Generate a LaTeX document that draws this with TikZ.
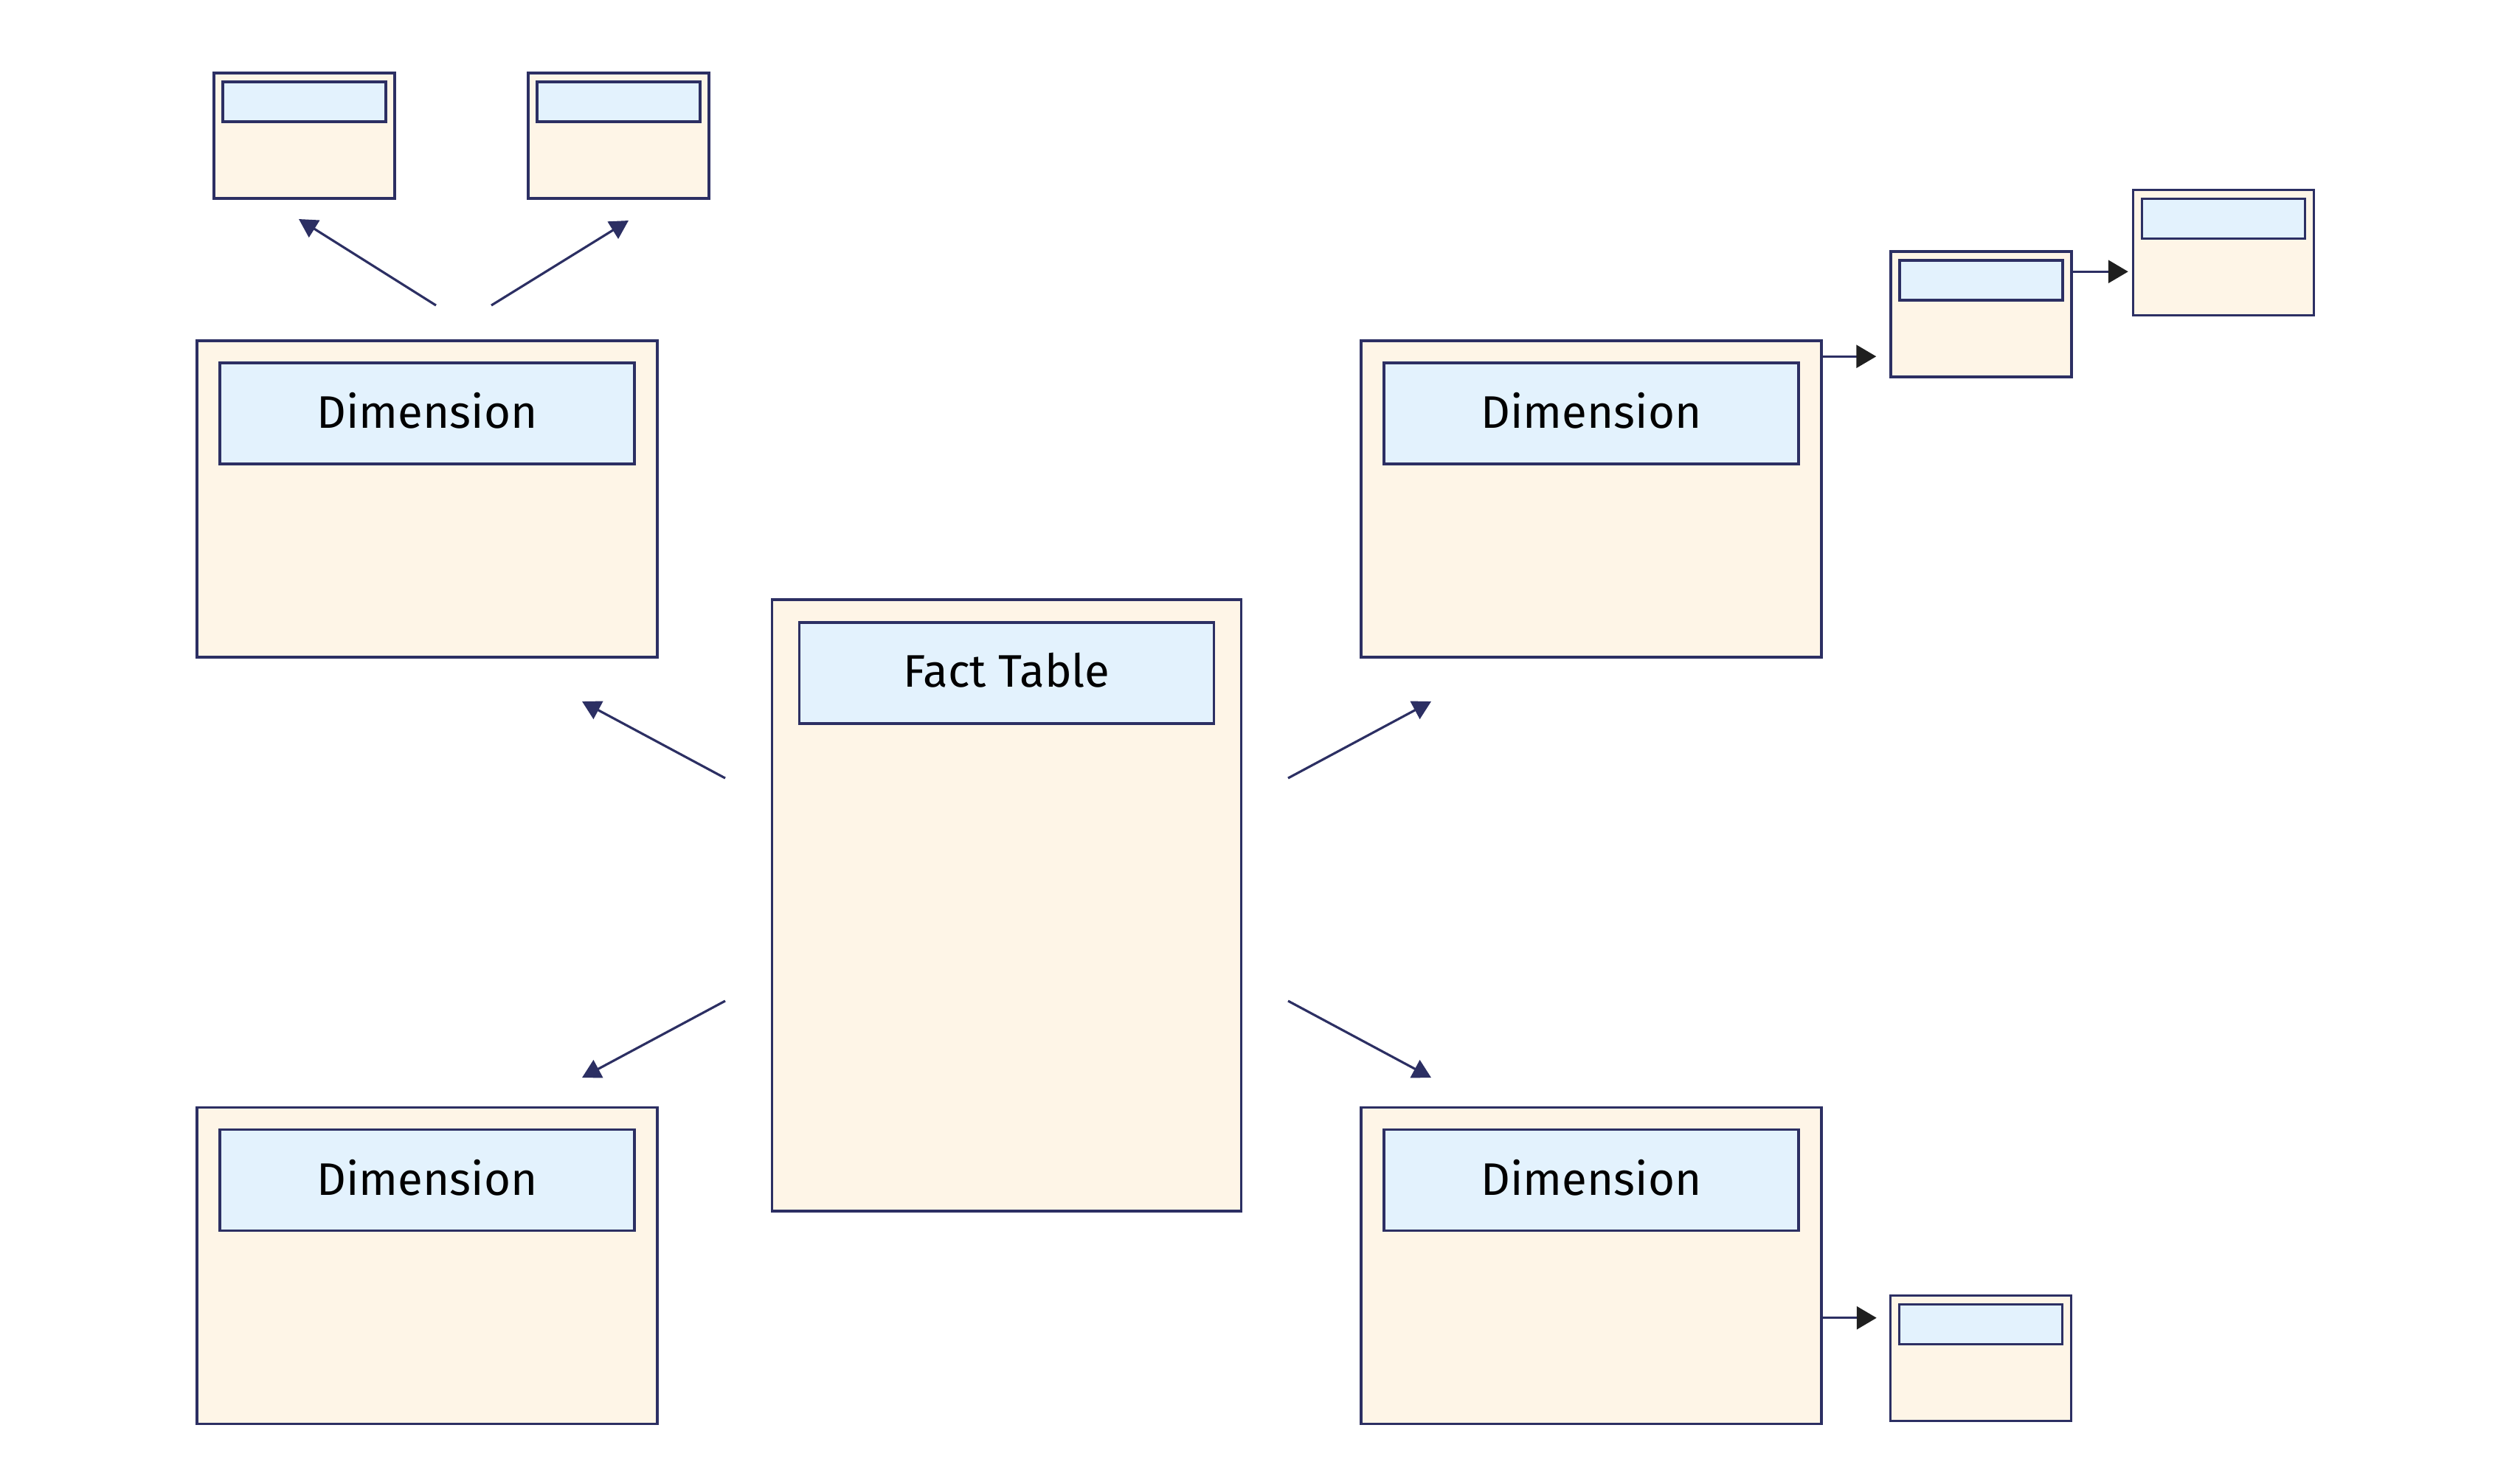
\documentclass[tikz,border=0pt]{standalone}
\usepackage{fontspec}
\setmainfont{Fira Sans}
\usepackage{tikz}
\usetikzlibrary{arrows.meta}
\usetikzlibrary{positioning}
\definecolor{navy}{RGB}{44,47,99}
\definecolor{cream}{RGB}{254,245,231}
\definecolor{paleblue}{RGB}{227,242,253}
\tikzset{tbl/.style = {draw = navy, fill = cream, line width = 1pt, inner sep = 0}}
\tikzset{dim/.style = {tbl, minimum width = 6.24cm, minimum height = 4.29cm}}
\tikzset{fct/.style = {tbl, minimum width = 6.36cm, minimum height = 8.29cm}}
\tikzset{sml/.style = {tbl, minimum width = 2.45cm, minimum height = 1.70cm}}
\tikzset{head/.style = {draw = navy, fill = paleblue, line width = 1pt, inner sep = 0,
                        minimum width = 5.62cm, minimum height = 1.37cm, text depth = 0.08cm,
                        font = \fontsize{17.6}{21}\selectfont}}
\tikzset{shead/.style = {draw = navy, fill = paleblue, line width = 1pt, inner sep = 0,
                         minimum width = 2.21cm, minimum height = 0.54cm}}
\tikzset{link/.style = {draw = navy, line width = 0.9pt,
                        -{Triangle[length = 0.25cm, width = 0.27cm]}}}
\tikzset{hlink/.style = {draw = navy, line width = 0.9pt,
                         -{Triangle[length = 0.27cm, width = 0.31cm, color = black!88]}}}

\begin{document}
\begin{tikzpicture}
      \useasboundingbox (0, 0) rectangle (34.01, -20.11);

      \node [fct] (fact) at (13.645, -12.275) {};
      \node [head, below = 0.31cm of fact.north] (fact-h) {Fact Table};

      \node [dim] (dimtl) at (5.79, -6.765) {};
      \node [head, below = 0.30cm of dimtl.north] (dimtl-h) {Dimension};
      \node [dim] (dimtr) at (21.57, -6.765) {};
      \node [head, below = 0.30cm of dimtr.north] (dimtr-h) {Dimension};
      \node [dim] (dimbl) at (5.79, -17.16) {};
      \node [head, below = 0.30cm of dimbl.north] (dimbl-h) {Dimension};
      \node [dim] (dimbr) at (21.57, -17.16) {};
      \node [head, below = 0.30cm of dimbr.north] (dimbr-h) {Dimension};

      \node [sml] (suba) at (4.125, -1.84) {};
      \node [shead, below = 0.12cm of suba.north] (suba-h) {};
      \node [sml] (subb) at (8.385, -1.84) {};
      \node [shead, below = 0.12cm of subb.north] (subb-h) {};
      \node [sml] (subc) at (26.855, -4.26) {};
      \node [shead, below = 0.12cm of subc.north] (subc-h) {};
      \node [sml] (subd) at (30.14, -3.425) {};
      \node [shead, below = 0.12cm of subd.north] (subd-h) {};
      \node [sml] (sube) at (26.85, -18.415) {};
      \node [shead, below = 0.12cm of sube.north] (sube-h) {};

      \coordinate (f-tl) at (9.83, -10.55);
      \coordinate (f-bl) at (9.83, -13.57);
      \coordinate (f-tr) at (17.46, -10.55);
      \coordinate (f-br) at (17.46, -13.57);
      \coordinate (t-tl) at (7.89, -9.51);
      \coordinate (t-bl) at (7.89, -14.61);
      \coordinate (t-tr) at (19.40, -9.51);
      \coordinate (t-br) at (19.40, -14.61);
      \coordinate (s-a) at (5.91, -4.14);
      \coordinate (t-a) at (4.05, -2.97);
      \coordinate (s-b) at (6.66, -4.14);
      \coordinate (t-b) at (8.52, -2.99);

      \draw [link] (f-tl) -- (t-tl);
      \draw [link] (f-bl) -- (t-bl);
      \draw [link] (f-tr) -- (t-tr);
      \draw [link] (f-br) -- (t-br);
      \draw [link] (s-a) -- (t-a);
      \draw [link] (s-b) -- (t-b);

      \coordinate (tr-out) at ([yshift = -0.23cm] dimtr.north east);
      \coordinate (c-out) at ([yshift = -0.29cm] subc.north east);
      \coordinate (br-out) at ([yshift = -2.87cm] dimbr.north east);
      \draw [hlink, shorten > = 0.18cm] (tr-out) -- (tr-out -| subc.west);
      \draw [hlink, shorten > = 0.05cm] (c-out) -- (c-out -| subd.west);
      \draw [hlink, shorten > = 0.17cm] (br-out) -- (br-out -| sube.west);
    \end{tikzpicture}
\end{document}
